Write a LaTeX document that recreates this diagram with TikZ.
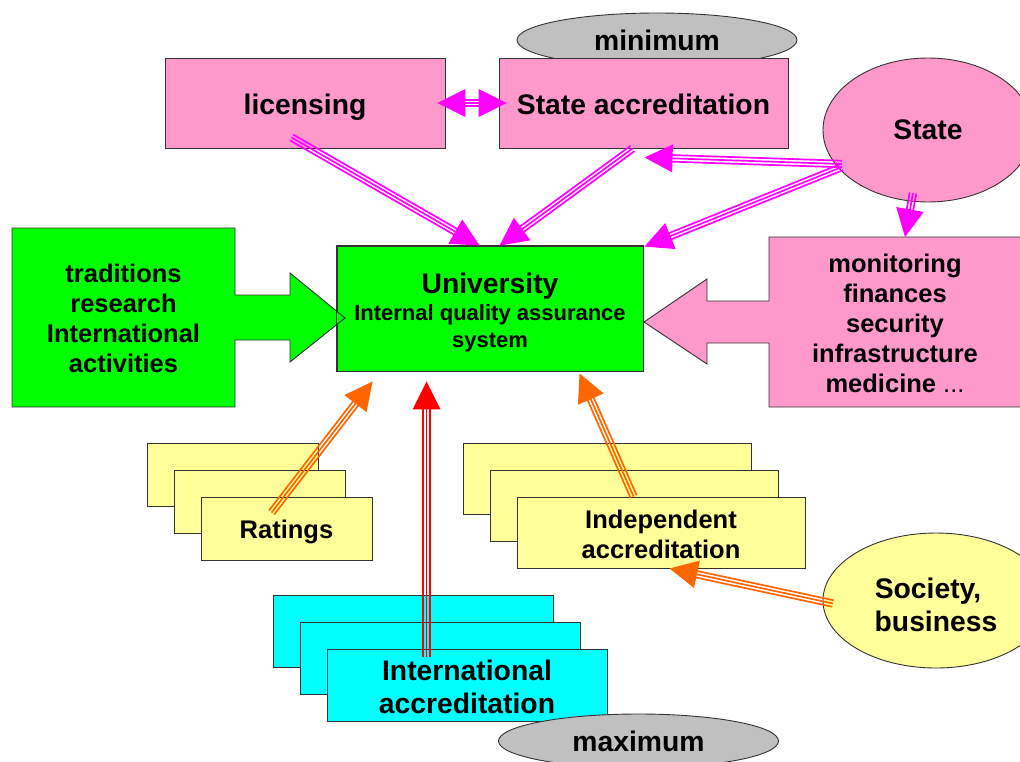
\documentclass[tikz,border=0pt]{standalone}
\usepackage{fontspec}
\setmainfont{Liberation Sans}
\usetikzlibrary{shapes.geometric,calc}
\definecolor{pinkc}{HTML}{FF99CC}
\definecolor{greenc}{HTML}{00FF00}
\definecolor{yellc}{HTML}{FFFF99}
\definecolor{cyanc}{HTML}{00FFFF}
\definecolor{grayc}{HTML}{C0C0C0}
\definecolor{magc}{HTML}{FF00FF}
\definecolor{orc}{HTML}{FF6600}
\definecolor{redc}{HTML}{FF0000}
\definecolor{edgec}{HTML}{333333}
\newcommand\bigf{\bfseries\fontsize{28.3}{33}\selectfont}
\newcommand\medf{\bfseries\fontsize{25.5}{30}\selectfont}
\newcommand\smlf{\bfseries\fontsize{22}{27}\selectfont}
\newcommand\strutto[1]{\rule{0pt}{#1}}
\newcommand\tline[3]{%
  \draw[#1, line width=1.7pt] (#2) -- (#3);
  \draw[#1, line width=1.7pt] ($(#2)!3.3pt!90:(#3)$) -- ($(#3)!3.3pt!-90:(#2)$);
  \draw[#1, line width=1.7pt] ($(#2)!3.3pt!-90:(#3)$) -- ($(#3)!3.3pt!90:(#2)$);
}
\newcommand\thead[3]{%
  \coordinate (hb) at ($(#2)!28pt!(#3)$);
  \fill[#1] (#2) -- ($(hb)!14pt!90:(#2)$) -- ($(hb)!14pt!-90:(#2)$) -- cycle;
}
\newcommand\tarrow[3]{%
  \coordinate (le) at ($(#3)!24pt!(#2)$);
  \tline{#1}{#2}{le}
  \thead{#1}{#3}{#2}
}
\begin{document}
\begin{tikzpicture}[x=1pt,y=-1pt,
  box/.style={draw=edgec, line width=0.9pt, inner sep=0pt, align=center},
  ell/.style={box, ellipse},
  shapeline/.style={draw=edgec, line width=0.9pt, line join=miter},
  txt/.style={inner sep=0pt, align=center}]
\useasboundingbox (0,0) rectangle (1020,761);
\clip (0,0) rectangle (1020,761);

% top
\node[ell, fill=grayc, minimum width=280, minimum height=54, font=\bigf] (minE) at (657,40) {minimum};
\node[box, fill=pinkc, minimum width=280, minimum height=90, font=\bigf] (lic) at (305,103) {\strutto{28.6pt}licensing};
\node[box, fill=pinkc, minimum width=289, minimum height=90, font=\bigf] (sacc) at (643.5,103) {\strutto{22.6pt}State accreditation};
\node[ell, fill=pinkc, minimum width=210, minimum height=144, font=\bigf] (state) at (928,130) {State};

% university
\node[box, fill=greenc, minimum width=306, minimum height=125, font=\smlf] (uni) at (490,308.5)
  {{\fontsize{28.3}{27}\selectfont\strutto{28.6pt}University}\\Internal quality assurance\\system};

% left green arrow box
\draw[shapeline, fill=greenc] (12,228) -- (235,228) -- (235,295) -- (290,295) -- (290,273) -- (345,318)
  -- (290,362) -- (290,340) -- (235,340) -- (235,407) -- (12,407) -- cycle;
\node[txt, font=\medf] (trad) at (123.5,318) {traditions\\research\\International\\activities};

% right pink arrow box
\draw[shapeline, fill=pinkc] (1025,237) -- (769,237) -- (769,301) -- (707,301) -- (707,279) -- (644,322)
  -- (707,364) -- (707,343) -- (769,343) -- (769,407) -- (1025,407) -- cycle;
\node[txt, font=\medf] (mon) at (895,323) {monitoring\\finances\\security\\infrastructure\\medicine {\mdseries ...}};

\draw[draw=edgec, line width=0.9pt] (uni.north west) rectangle (uni.south east);

% ratings stack
\node[box, fill=yellc, minimum width=171, minimum height=63] (rat1) at (232.5,474.5) {};
\node[box, fill=yellc, minimum width=171, minimum height=63] (rat2) at (259.5,501.5) {};
\node[box, fill=yellc, minimum width=171, minimum height=63, font=\medf] (rat3) at (286.5,528.5) {\strutto{24.6pt}Ratings};

% independent stack
\node[box, fill=yellc, minimum width=288, minimum height=71] (ind1) at (607,478.5) {};
\node[box, fill=yellc, minimum width=288, minimum height=71] (ind2) at (634,505.5) {};
\node[box, fill=yellc, minimum width=288, minimum height=71, font=\medf] (ind3) at (661,532.5) {\strutto{21.6pt}Independent\\accreditation};

% international stack
\node[box, fill=cyanc, minimum width=280, minimum height=72] (int1) at (413,631) {};
\node[box, fill=cyanc, minimum width=280, minimum height=72] (int2) at (440,658) {};
\node[box, fill=cyanc, minimum width=280, minimum height=72, font=\bigf] (int3) at (467,685) {\strutto{24.6pt}International\\accreditation};

\node[ell, fill=grayc, minimum width=280, minimum height=54, font=\bigf] (maxE) at (638.5,741) {maximum};

\node[ell, fill=yellc, minimum width=226, minimum height=135, font=\bigf] (soc) at (936,600.5) {\strutto{28.6pt}Society,\hspace*{16pt}\\business};

% arrow end points
\coordinate (a1s) at ($(lic.south west)+(127,-11)$);
\coordinate (a1e) at ($(uni.north west)+(143,0)$);
\coordinate (a2s) at ($(sacc.south west)+(134,0)$);
\coordinate (a2e) at ($(uni.north west)+(163,0)$);
\coordinate (a3s) at ($(state.center)+(-86,34)$);
\coordinate (a3e) at ($(sacc.south west)+(146,9)$);
\coordinate (a4s) at ($(state.center)+(-86,37)$);
\coordinate (a4e) at ($(uni.north east)+(1,1)$);
\coordinate (a5l) at ($(lic.east)+(-8,0)$);
\coordinate (a5r) at ($(sacc.west)+(8,0)$);
\coordinate (a6s) at ($(state.center)+(-15,63)$);
\coordinate (a6e) at (905,237);
\coordinate (a7s) at ($(rat3.north west)+(71,16)$);
\coordinate (a7e) at ($(uni.south west)+(36,10)$);
\coordinate (a8s) at ($(int3.north west)+(100,8)$);
\coordinate (a8e) at ($(uni.south west)+(90,10)$);
\coordinate (a9s) at ($(ind3.north west)+(117,0)$);
\coordinate (a9e) at ($(uni.south west)+(243,2)$);
\coordinate (a10s) at ($(soc.center)+(-103,3)$);
\coordinate (a10e) at ($(ind3.south west)+(153,0)$);

% arrows
\tarrow{magc}{a1s}{a1e}
\tarrow{magc}{a2s}{a2e}
\tarrow{magc}{a3s}{a3e}
\tarrow{magc}{a4s}{a4e}
\coordinate (a5a) at ($(a5l)!24pt!(a5r)$);
\coordinate (a5b) at ($(a5r)!24pt!(a5l)$);
\tline{magc}{a5a}{a5b}
\thead{magc}{a5l}{a5r}
\thead{magc}{a5r}{a5l}
\tarrow{magc}{a6s}{a6e}
\tarrow{orc}{a7s}{a7e}
\tarrow{redc}{a8s}{a8e}
\tarrow{orc}{a9s}{a9e}
\tarrow{orc}{a10s}{a10e}
\end{tikzpicture}
\end{document}
